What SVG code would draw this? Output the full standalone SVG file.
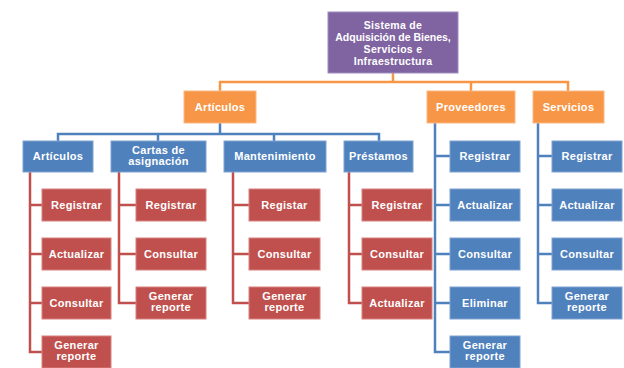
<svg xmlns="http://www.w3.org/2000/svg" width="624" height="368" viewBox="0 0 624 368">
<style>
text{font-family:"Liberation Sans",Arial,sans-serif;font-weight:bold;font-size:11px;fill:#fff;text-anchor:middle;letter-spacing:0.3px}
.p{fill:#8064A2;stroke:#a08cc0;stroke-width:1}
.o{fill:#F79646;stroke:#fab884;stroke-width:1}
.b{fill:#4F81BD;stroke:#7ea3d2;stroke-width:1}
.r{fill:#C0504D;stroke:#d8807e;stroke-width:1}
.lo{fill:none;stroke:#F79646;stroke-width:2.5}
.lb{fill:none;stroke:#4F81BD;stroke-width:2.5}
.lr{fill:none;stroke:#C0504D;stroke-width:2.5}
</style>
<g id="connectors">
<path class="lo" d="M393,73 V82 M220,91 V82 H568 V91 M471,82 V91"/>
<path class="lb" d="M220,123 V134 M58,141 V134 H379 V141 M158,134 V141 M274,134 V141"/>
<path class="lr" d="M30,172 V352 H42 M30,205 H42 M30,254 H42 M30,303 H42"/>
<path class="lr" d="M119,172 V303 H136 M119,205 H136 M119,254 H136"/>
<path class="lr" d="M233,172 V303 H249 M233,205 H249 M233,254 H249"/>
<path class="lr" d="M349,172 V303 H362 M349,205 H362 M349,254 H362"/>
<path class="lb" d="M435,123 V352 H450 M435,156 H450 M435,205 H450 M435,254 H450 M435,303 H450"/>
<path class="lb" d="M538,123 V303 H552 M538,156 H552 M538,205 H552 M538,254 H552"/>
</g>
<g id="root"><rect class="p" x="328" y="12" width="130" height="61"/>
<text x="393" y="29" style="font-size:10.5px">Sistema de</text>
<text x="393" y="41" style="font-size:10.5px;letter-spacing:0">Adquisición de Bienes,</text>
<text x="393" y="53" style="font-size:10.5px">Servicios e</text>
<text x="393" y="65" style="font-size:10.5px">Infraestructura</text></g>
<g id="articulos-main"><rect class="o" x="184" y="91" width="72" height="32"/><text x="220" y="111">Artículos</text></g>
<g id="proveedores"><rect class="o" x="427" y="91" width="88" height="32"/><text x="471" y="111">Proveedores</text></g>
<g id="servicios"><rect class="o" x="533" y="91" width="71" height="32"/><text x="568.5" y="111">Servicios</text></g>
<g id="articulos"><rect class="b" x="23" y="141" width="70" height="31"/><text x="58" y="160">Artículos</text></g>
<g id="cartas"><rect class="b" x="111" y="141" width="95" height="31"/><text x="158.5" y="154">Cartas de</text><text x="158.5" y="165">asignación</text></g>
<g id="mantenimiento"><rect class="b" x="224" y="141" width="102" height="31"/><text x="275" y="160">Mantenimiento</text></g>
<g id="prestamos"><rect class="b" x="344" y="141" width="69" height="31"/><text x="378.5" y="160">Préstamos</text></g>
<g id="a-registrar"><rect class="r" x="42" y="189" width="69" height="32"/><text x="76.5" y="209">Registrar</text></g>
<g id="a-actualizar"><rect class="r" x="42" y="238" width="69" height="32"/><text x="76.5" y="258">Actualizar</text></g>
<g id="a-consultar"><rect class="r" x="42" y="287" width="69" height="32"/><text x="76.5" y="307">Consultar</text></g>
<g id="a-generar"><rect class="r" x="42" y="336" width="69" height="32"/><text x="76.5" y="349">Generar</text><text x="76.5" y="360">reporte</text></g>
<g id="c-registrar"><rect class="r" x="136" y="189" width="70" height="32"/><text x="171" y="209">Registrar</text></g>
<g id="c-consultar"><rect class="r" x="136" y="238" width="70" height="32"/><text x="171" y="258">Consultar</text></g>
<g id="c-generar"><rect class="r" x="136" y="287" width="70" height="32"/><text x="171" y="300">Generar</text><text x="171" y="311">reporte</text></g>
<g id="m-registrar"><rect class="r" x="249" y="189" width="71" height="32"/><text x="284.5" y="209">Registar</text></g>
<g id="m-consultar"><rect class="r" x="249" y="238" width="71" height="32"/><text x="284.5" y="258">Consultar</text></g>
<g id="m-generar"><rect class="r" x="249" y="287" width="71" height="32"/><text x="284.5" y="300">Generar</text><text x="284.5" y="311">reporte</text></g>
<g id="p-registrar"><rect class="r" x="362" y="189" width="70" height="32"/><text x="397" y="209">Registrar</text></g>
<g id="p-consultar"><rect class="r" x="362" y="238" width="70" height="32"/><text x="397" y="258">Consultar</text></g>
<g id="p-actualizar"><rect class="r" x="362" y="287" width="70" height="32"/><text x="397" y="307">Actualizar</text></g>
<g id="pv-registrar"><rect class="b" x="450" y="141" width="70" height="31"/><text x="485" y="160">Registrar</text></g>
<g id="pv-actualizar"><rect class="b" x="450" y="189" width="70" height="32"/><text x="485" y="209">Actualizar</text></g>
<g id="pv-consultar"><rect class="b" x="450" y="238" width="70" height="32"/><text x="485" y="258">Consultar</text></g>
<g id="pv-eliminar"><rect class="b" x="450" y="287" width="70" height="32"/><text x="485" y="307">Eliminar</text></g>
<g id="pv-generar"><rect class="b" x="450" y="336" width="70" height="32"/><text x="485" y="349">Generar</text><text x="485" y="360">reporte</text></g>
<g id="s-registrar"><rect class="b" x="552" y="141" width="70" height="31"/><text x="587" y="160">Registrar</text></g>
<g id="s-actualizar"><rect class="b" x="552" y="189" width="70" height="32"/><text x="587" y="209">Actualizar</text></g>
<g id="s-consultar"><rect class="b" x="552" y="238" width="70" height="32"/><text x="587" y="258">Consultar</text></g>
<g id="s-generar"><rect class="b" x="552" y="287" width="70" height="32"/><text x="587" y="300">Generar</text><text x="587" y="311">reporte</text></g>
</svg>
